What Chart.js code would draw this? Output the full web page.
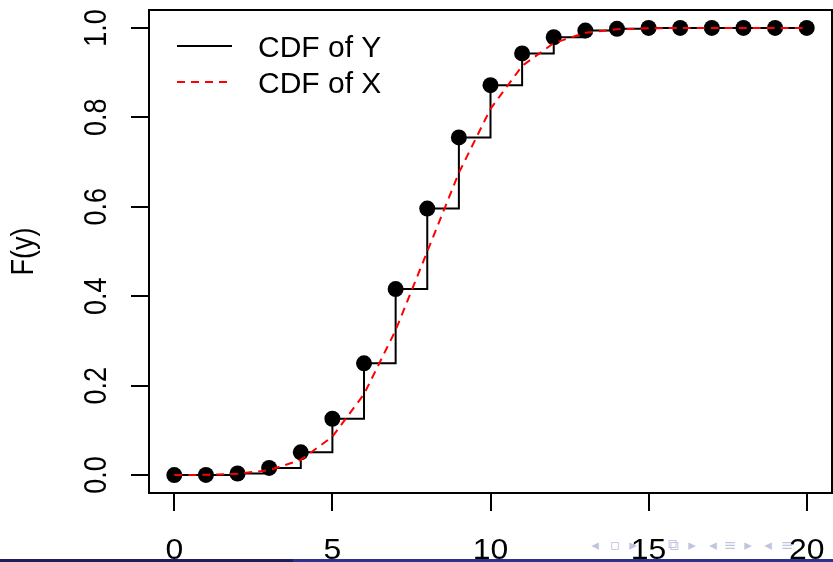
<!DOCTYPE html>
<html><head><meta charset="utf-8">
<script src="https://cdn.jsdelivr.net/npm/chart.js@4.4.1/dist/chart.umd.min.js"></script>
<style>
html,body{margin:0;padding:0;background:#fff;}
#wrap{position:relative;width:833px;height:562px;overflow:hidden;background:#fff;}
#c{position:absolute;left:0;top:0;z-index:2;}
.nv{position:absolute;top:536px;font:15px "DejaVu Sans";color:#c3c3e0;z-index:1;line-height:18px;transform:translateX(-50%);}
#bar1{position:absolute;left:0;top:559px;width:293px;height:3px;background:#1e1e5e;z-index:3;}
#bar2{position:absolute;left:293px;top:559px;width:540px;height:3px;background:#2f2f8c;z-index:3;}
</style></head>
<body>
<div id="wrap">
<span class="nv" style="left:595px">◂</span>
<span class="nv" style="left:615px">▫</span>
<span class="nv" style="left:633px">▸</span>
<span class="nv" style="left:673px">⧉</span>
<span class="nv" style="left:692px">▸</span>
<span class="nv" style="left:713px">◂</span>
<span class="nv" style="left:730px">≡</span>
<span class="nv" style="left:748px">▸</span>
<span class="nv" style="left:768px">◂</span>
<span class="nv" style="left:787px">≡</span>
<canvas id="c" width="833" height="562"></canvas>
<div id="bar1"></div><div id="bar2"></div>
</div>
<script>
// Data
const yValues = [0,1,2,3,4,5,6,7,8,9,10,11,12,13,14,15,16,17,18,19,20];
const cdfY = [0.00004,0.0005,0.0036,0.016,0.051,0.126,0.250,0.416,0.596,0.755,0.872,0.943,0.979,0.994,0.998,1.000,1.000,1.000,1.000,1.000,1.000];
const cdfX = [0.0001,0.0007,0.0031,0.011,0.034,0.086,0.181,0.324,0.500,0.676,0.819,0.915,0.966,0.989,0.997,0.999,1.000,1.000,1.000,1.000,1.000];
const xTicks = [0,5,10,15,20];
const xTickLabels = ['0','5','10','15','20'];
const yTicks = [0,0.2,0.4,0.6,0.8,1.0];
const yTickLabels = ['0.0','0.2','0.4','0.6','0.8','1.0'];
const yTitle = 'F(y)';
const seriesLabels = ['CDF of Y','CDF of X'];

const FAM = '"Liberation Sans", Arial, sans-serif';

const rPlot = {
  id:'rPlot',
  afterDraw(chart){
    const ctx = chart.ctx, a = chart.chartArea;
    const xs = chart.scales.x, ys = chart.scales.y;
    ctx.save();
    // box
    ctx.strokeStyle='#000'; ctx.lineWidth=2; ctx.setLineDash([]);
    ctx.strokeRect(a.left, a.top, a.right-a.left, a.bottom-a.top);
    ctx.fillStyle='#000';
    // x tick labels
    ctx.font='29px '+FAM;
    ctx.textAlign='center'; ctx.textBaseline='alphabetic';
    xTicks.forEach((v,i)=>{
      ctx.save(); ctx.translate(xs.getPixelForValue(v), 559); ctx.scale(1.1,1);
      ctx.fillText(xTickLabels[i], 0, 0); ctx.restore();
    });
    // y tick labels rotated
    yTicks.forEach((v,i)=>{
      ctx.save(); ctx.translate(106, ys.getPixelForValue(v)); ctx.rotate(-Math.PI/2); ctx.scale(0.93,1.09);
      ctx.textAlign='center'; ctx.textBaseline='alphabetic';
      ctx.fillText(yTickLabels[i],0,0); ctx.restore();
    });
    // y title
    ctx.save(); ctx.translate(33,(a.top+a.bottom)/2); ctx.rotate(-Math.PI/2); ctx.scale(0.93,1.09);
    ctx.textAlign='center'; ctx.textBaseline='alphabetic';
    ctx.fillText(yTitle,0,0); ctx.restore();
    // legend
    ctx.font='30px '+FAM;
    const ds = chart.data.datasets;
    const rows = [46,82];
    ds.forEach((d,i)=>{
      const y = rows[i];
      ctx.beginPath(); ctx.strokeStyle=d.borderColor; ctx.lineWidth=2;
      ctx.setLineDash(d.borderDash||[]);
      ctx.moveTo(177,y); ctx.lineTo(232,y); ctx.stroke();
      ctx.setLineDash([]);
      ctx.textAlign='left'; ctx.textBaseline='alphabetic'; ctx.fillStyle='#000';
      ctx.fillText(d.label, 258, y+10.5);
    });
    ctx.restore();
  }
};

new Chart(document.getElementById('c'), {
  type:'line',
  data:{
    datasets:[
      {label:seriesLabels[0], data:yValues.map((v,i)=>({x:v,y:cdfY[i]})), stepped:true,
       borderColor:'#000000', borderWidth:2, pointRadius:8, pointBackgroundColor:'#000', pointBorderWidth:0,
       pointBorderColor:'#000', fill:false, order:2},
      {label:seriesLabels[1], data:yValues.map((v,i)=>({x:v,y:cdfX[i]})), borderColor:'#ff0000',
       borderDash:[8,6], borderWidth:2, pointRadius:0, fill:false, tension:0, order:1}
    ]
  },
  options:{
    responsive:false, animation:false, devicePixelRatio:1,
    layout:{autoPadding:false, padding:{left:0,right:1,top:10,bottom:0}},
    plugins:{legend:{display:false}, tooltip:{enabled:false}},
    scales:{
      x:{type:'linear', min:-0.8, max:20.8,
        afterBuildTicks:s=>{s.ticks=xTicks.map(v=>({value:v}));},
        afterFit:s=>{s.height=69;},
        grid:{display:true, drawOnChartArea:false, drawTicks:true, tickLength:18, color:'#000', lineWidth:2},
        border:{display:false}, ticks:{display:false}},
      y:{type:'linear', min:-0.04, max:1.04,
        afterBuildTicks:s=>{s.ticks=yTicks.map(v=>({value:v}));},
        afterFit:s=>{s.width=149;},
        grid:{display:true, drawOnChartArea:false, drawTicks:true, tickLength:18, color:'#000', lineWidth:2},
        border:{display:false}, ticks:{display:false}}
    }
  },
  plugins:[rPlot]
});
</script>
</body></html>
